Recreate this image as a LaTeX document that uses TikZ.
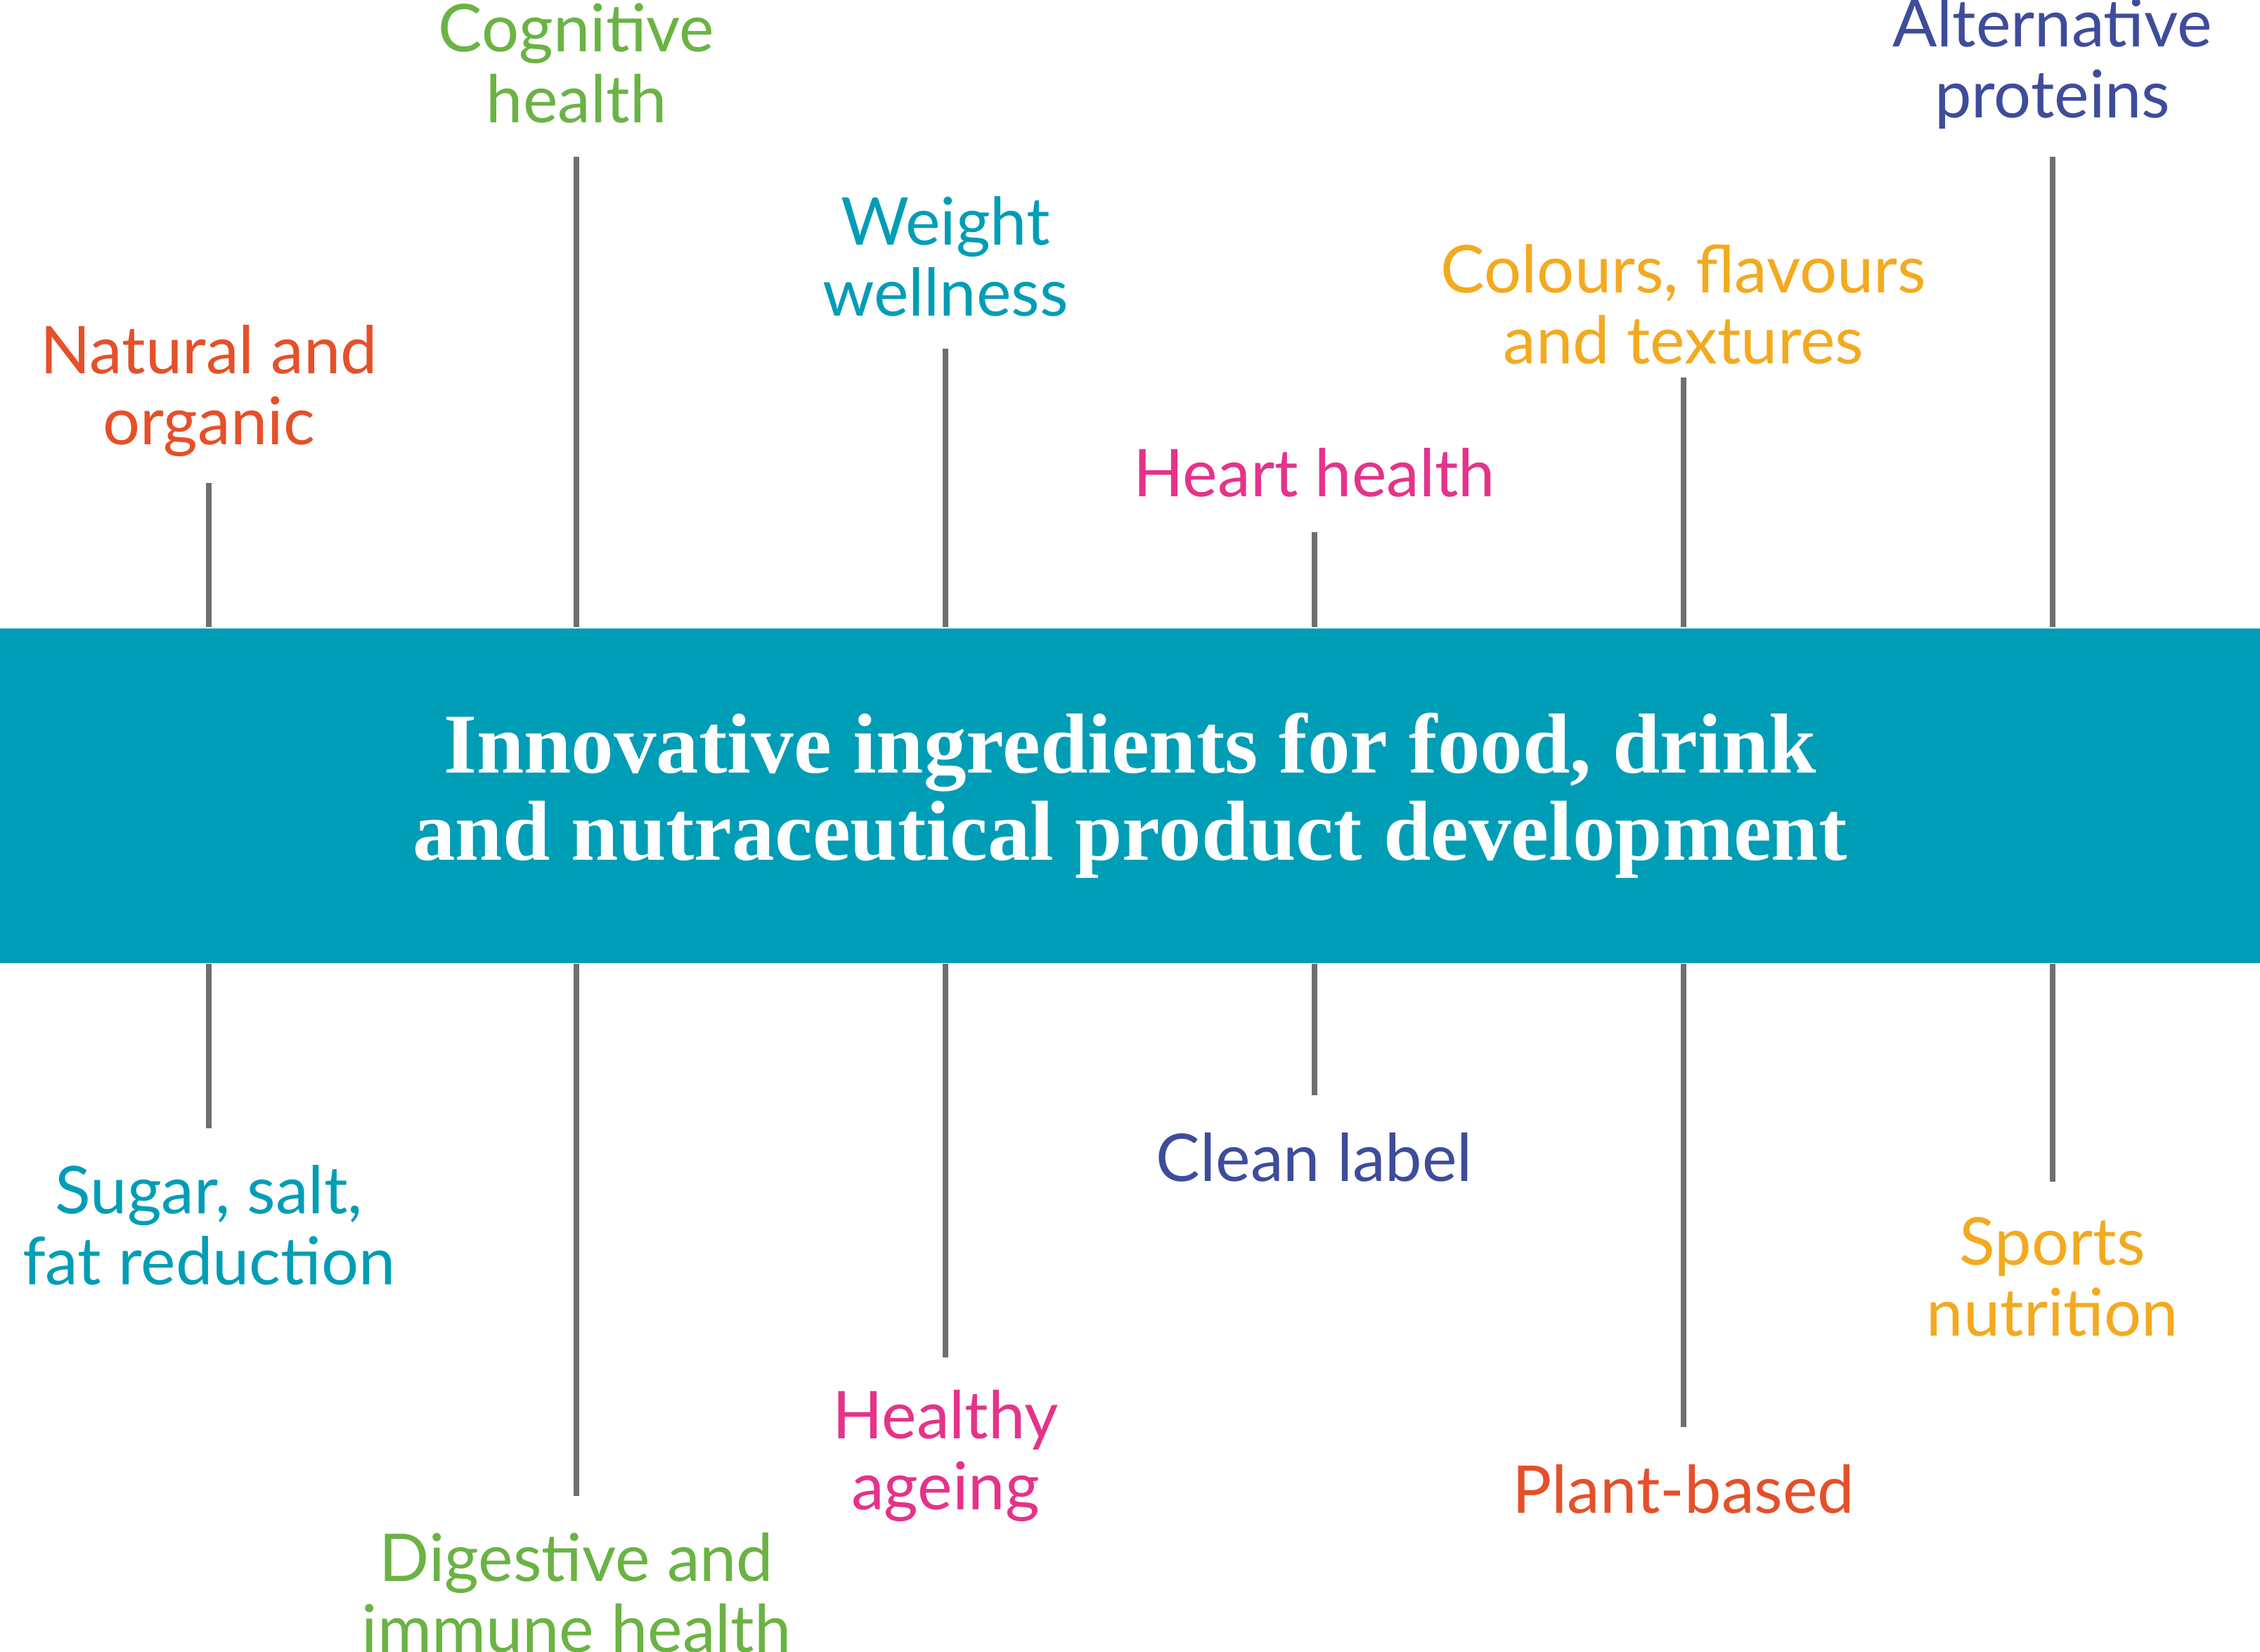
\documentclass[tikz,border=0pt]{standalone}
\usepackage{fontspec}
\setmainfont{Lato}
\newfontfamily\titlefont{Liberation Serif}
\usetikzlibrary{positioning}
\definecolor{banner_teal}{HTML}{009DB6}
\definecolor{topic_red}{HTML}{E5502A}
\definecolor{topic_green}{HTML}{6AB344}
\definecolor{topic_pink}{HTML}{E5338A}
\definecolor{topic_orange}{HTML}{F3AA1F}
\definecolor{topic_blue}{HTML}{3E4C9B}
\definecolor{stem_grey}{HTML}{6F6F6F}
\tikzset{
  topic/.style={align=center, inner sep=0pt, font=\fontsize{13}{14}\selectfont},
  stem/.style={stem_grey, line width=1.1pt},
}

\begin{document}
\begin{tikzpicture}[x=0.01cm, y=-0.01cm]
    \useasboundingbox (0,0) rectangle (1568,1146);

    \node[fill=banner_teal, minimum width=15.68cm, minimum height=2.32cm, inner sep=0pt,
          text=white, align=center, font=\titlefont\bfseries\fontsize{16.8}{17.2}\selectfont]
        (banner) at (784,552)
        {Innovative ingredients for food, drink\\and nutraceutical product development};

    % topics above the banner
    \foreach \name/\x/\y/\yend/\col/\txt in {
        natural/145/271/335/topic_red/{Natural and\\organic},
        cognitive/400/44/109/topic_green/{Cognitive\\health},
        weight/656/178/242/banner_teal/{Weight\\wellness},
        heart/912/328/369/topic_pink/{Heart health},
        colours/1168/211/262/topic_orange/{Colours, flavours\\and textures},
        alternative/1424/44/109/topic_blue/{Alternative\\proteins}}
    {
        \node[topic, text=\col] (\name) at (\x,\y) {\txt};
        \coordinate (\name-end) at (\x,\yend);
        \draw[stem] (\name-end) -- (\name-end |- banner.north);
    }

    % topics below the banner
    \foreach \name/\x/\y/\yend/\col/\txt in {
        sugar/145/850/783/banner_teal/{Sugar, salt,\\fat reduction},
        digestive/400/1105/1038/topic_green/{Digestive and\\immune health},
        healthy/656/1010/942/topic_pink/{Healthy\\ageing},
        clean/912/803/760/topic_blue/{Clean label},
        plant/1168/1033/990/topic_red/{Plant-based},
        sports/1424/886/820/topic_orange/{Sports\\nutrition}}
    {
        \node[topic, text=\col] (\name) at (\x,\y) {\txt};
        \coordinate (\name-end) at (\x,\yend);
        \draw[stem] (\name-end) -- (\name-end |- banner.south);
    }
\end{tikzpicture}
\end{document}
